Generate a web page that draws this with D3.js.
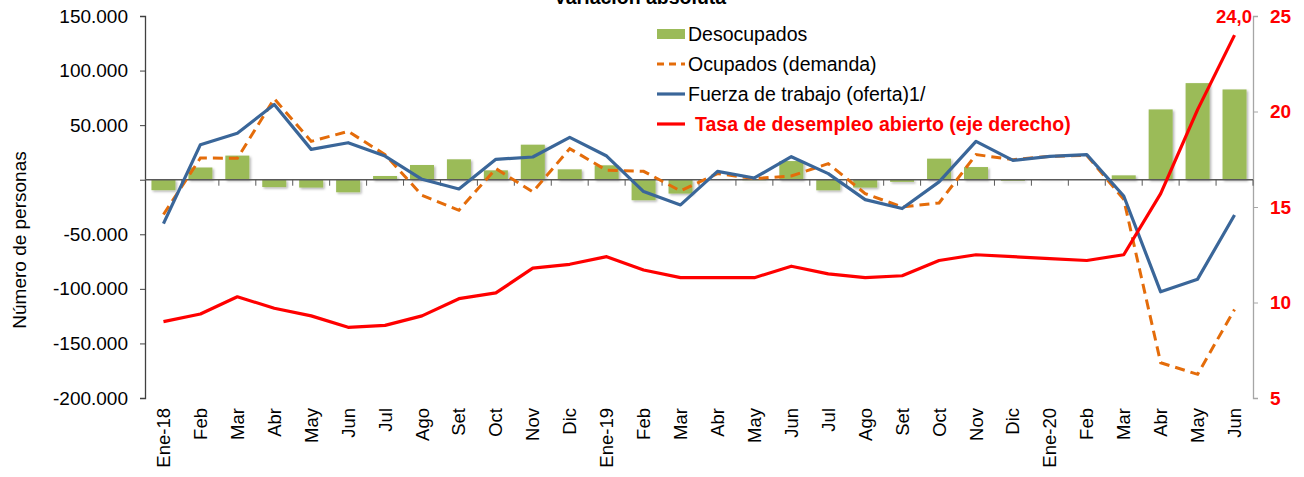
<!DOCTYPE html>
<html>
<head>
<meta charset="utf-8">
<script src="https://cdn.jsdelivr.net/npm/d3@7"></script>
<style>
  body { margin: 0; background: #fff; }
  svg { display: block; font-family: "Liberation Sans", Arial, sans-serif; }
</style>
</head>
<body>
<div id="chart"></div>
<script>
// Month labels (Ene-18 ... Jun-20)
const months = ["Ene-18","Feb","Mar","Abr","May","Jun","Jul","Ago","Set","Oct","Nov","Dic",
  "Ene-19","Feb","Mar","Abr","May","Jun","Jul","Ago","Set","Oct","Nov","Dic",
  "Ene-20","Feb","Mar","Abr","May","Jun"];

// Desocupados (bars, left axis)
const desocupados = [-9600, 11200, 22100, -6700, -7200, -11500, 3400, 13500, 18700, 8600, 32100, 9500,
  13200, -18800, -12700, 500, -500, 17100, -9700, -7200, -2000, 19300, 11600, -1000,
  300, 0, 4000, 64400, 88500, 82700];

// Ocupados (demanda), dashed orange
const ocupados = [-31900, 19900, 19600, 74200, 35100, 44300, 23000, -14300, -28000, 10200, -11200, 28500,
  8600, 7700, -10300, 5600, 1000, 3400, 14700, -12700, -25000, -21300, 23000, 18400,
  21400, 22300, -18000, -167700, -178300, -118900];

// Fuerza de trabajo (oferta), blue
const fuerza = [-40200, 32100, 42500, 69000, 27800, 33900, 21700, 400, -8500, 18700, 20800, 38800,
  21700, -10900, -23100, 7700, 1600, 21100, 5600, -18200, -26400, -2000, 35100, 17700,
  21400, 23000, -14900, -102700, -91100, -32300];

// Tasa de desempleo abierto (right axis, %)
const tasa = [9.0, 9.4, 10.3, 9.7, 9.3, 8.7, 8.8, 9.3, 10.2, 10.5, 11.8, 12.0,
  12.4, 11.7, 11.3, 11.3, 11.3, 11.9, 11.5, 11.3, 11.4, 12.2, 12.5, 12.4,
  12.3, 12.2, 12.5, 15.7, 20.1, 24.0];

const leftTicks = [-200000, -150000, -100000, -50000, 0, 50000, 100000, 150000];
const rightTicks = [5, 10, 15, 20, 25];

const legendItems = [
  { label: "Desocupados", kind: "bar" },
  { label: "Ocupados (demanda)", kind: "dash" },
  { label: "Fuerza de trabajo (oferta)1/", kind: "blue" },
  { label: "Tasa de desempleo abierto (eje derecho)", kind: "red" }
];

const width = 1304, height = 477;
const plotLeft = 145, plotRight = 1253, plotTop = 16, plotBottom = 398;

const colors = { bar: "#9BBB59", dash: "#E46C0A", blue: "#3A6699", red: "#FF0000" };

const svg = d3.select("#chart").append("svg")
  .attr("width", width)
  .attr("height", height);

const defs = svg.append("defs");
defs.append("filter")
  .attr("id", "shadow")
  .attr("x", "-20%").attr("y", "-20%").attr("width", "150%").attr("height", "150%")
  .append("feDropShadow")
  .attr("dx", 1.5).attr("dy", 1.5).attr("stdDeviation", 1)
  .attr("flood-color", "#000").attr("flood-opacity", 0.3);

const x = d3.scaleBand()
  .domain(d3.range(months.length))
  .range([plotLeft, plotRight])
  .paddingInner(0.35)
  .paddingOuter(0.175);

const y = d3.scaleLinear().domain([-200000, 150000]).range([plotBottom, plotTop]);
const y2 = d3.scaleLinear().domain([5, 25]).range([plotBottom, plotTop]);

const loc = d3.formatLocale({ decimal: ",", thousands: ".", grouping: [3], currency: ["", ""], minus: "-" });
const fmt = loc.format(",.0f");

// Title (clipped at top of picture)
svg.append("text")
  .attr("x", 640).attr("y", 4)
  .attr("text-anchor", "middle")
  .style("font-weight", "bold")
  .style("font-size", "19.5px")
  .text("Variación absoluta");

// Bars
const cx = i => x(i) + x.bandwidth() / 2;
svg.append("g")
  .attr("filter", "url(#shadow)")
  .selectAll("rect")
  .data(desocupados)
  .join("rect")
  .attr("x", (d, i) => x(i))
  .attr("width", x.bandwidth())
  .attr("y", d => y(Math.max(0, d)))
  .attr("height", d => Math.abs(y(d) - y(0)))
  .attr("fill", colors.bar);

// Left axis
const yAxis = d3.axisLeft(y)
  .tickValues(leftTicks)
  .tickSize(5)
  .tickPadding(12)
  .tickFormat(d => d === 0 ? "" : fmt(d));
const gy = svg.append("g").attr("transform", `translate(${plotLeft},0)`).call(yAxis);
gy.select(".domain").attr("stroke", "#404040").attr("stroke-width", 1.3);
gy.selectAll(".tick line").attr("stroke", "#404040");
gy.selectAll("text").style("font-size", "19px").attr("fill", "#000");

// Right axis
const yAxisR = d3.axisRight(y2)
  .tickValues(rightTicks)
  .tickSize(5)
  .tickPadding(12);
const gr = svg.append("g").attr("transform", `translate(${plotRight},0)`).call(yAxisR);
gr.select(".domain").attr("stroke", "#A6A6A6").attr("stroke-width", 1.3);
gr.selectAll(".tick line").attr("stroke", "#A6A6A6");
gr.selectAll("text").style("font-size", "19px").style("font-weight", "bold").attr("fill", colors.red);

// Zero line with category ticks
const gz = svg.append("g");
gz.append("line")
  .attr("x1", plotLeft).attr("x2", plotRight)
  .attr("y1", y(0)).attr("y2", y(0))
  .attr("stroke", "#595959").attr("stroke-width", 1.6);
gz.selectAll("line.tk")
  .data(d3.range(1, months.length + 1))
  .join("line")
  .attr("class", "tk")
  .attr("x1", i => plotLeft + x.step() * i)
  .attr("x2", i => plotLeft + x.step() * i)
  .attr("y1", y(0)).attr("y2", y(0) + 6)
  .attr("stroke", "#595959").attr("stroke-width", 1);

// Month labels at bottom
svg.append("g")
  .selectAll("text")
  .data(months)
  .join("text")
  .attr("transform", (d, i) => `translate(${cx(i) + 6.5},408) rotate(-90)`)
  .attr("text-anchor", "end")
  .style("font-size", "18.5px")
  .text(d => d);

// Y axis title
svg.append("text")
  .attr("transform", "translate(26,240) rotate(-90)")
  .attr("text-anchor", "middle")
  .style("font-size", "19px")
  .text("Número de personas");

// Lines
const line = d3.line().x((d, i) => cx(i)).y(d => y(d));
const line2 = d3.line().x((d, i) => cx(i)).y(d => y2(d));

svg.append("path").datum(ocupados)
  .attr("d", line).attr("fill", "none")
  .attr("stroke", colors.dash).attr("stroke-width", 3)
  .attr("stroke-dasharray", "10,6");

svg.append("path").datum(fuerza)
  .attr("d", line).attr("fill", "none")
  .attr("stroke", colors.blue).attr("stroke-width", 3.2)
  .attr("stroke-linejoin", "round");

svg.append("path").datum(tasa)
  .attr("d", line2).attr("fill", "none")
  .attr("stroke", colors.red).attr("stroke-width", 3.2)
  .attr("stroke-linejoin", "round");

// Last value label
const last = tasa.length - 1;
svg.append("text")
  .attr("x", plotRight - 1).attr("y", 23)
  .attr("text-anchor", "end")
  .style("font-size", "18.5px")
  .style("font-weight", "bold")
  .attr("fill", colors.red)
  .text(d3.format(".1f")(tasa[last]).replace(".", ","));

// Legend
const lg = svg.append("g").attr("transform", "translate(657,0)");
legendItems.forEach((it, k) => {
  const base = 41 + k * 30;
  const mid = base - 7;
  if (it.kind === "bar") {
    lg.append("rect").attr("x", 0).attr("y", mid - 5).attr("width", 28).attr("height", 10)
      .attr("fill", colors.bar);
  } else {
    lg.append("line").attr("x1", 0).attr("x2", 28).attr("y1", mid).attr("y2", mid)
      .attr("stroke", colors[it.kind]).attr("stroke-width", 3.2)
      .attr("stroke-dasharray", it.kind === "dash" ? "7,5" : null);
  }
  lg.append("text")
    .attr("x", it.kind === "red" ? 38 : 31)
    .attr("y", base)
    .style("font-size", "19.5px")
    .style("font-weight", it.kind === "red" ? "bold" : null)
    .attr("fill", it.kind === "red" ? colors.red : "#000")
    .text(it.label);
});
</script>
</body>
</html>
